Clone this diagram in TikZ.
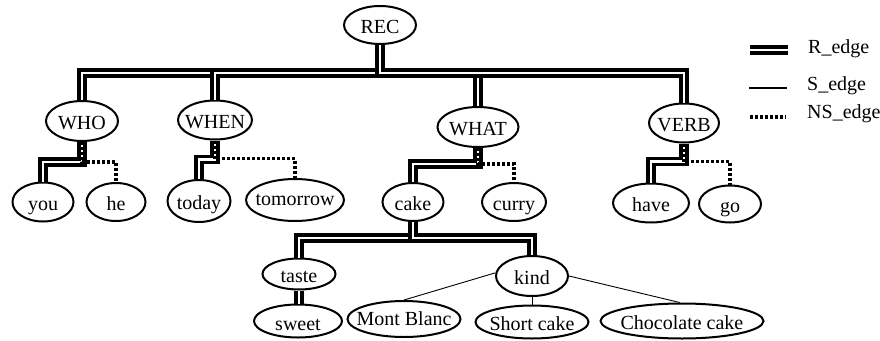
\documentclass[tikz,border=0pt]{standalone}
\usepackage{fontspec}
\setmainfont{Liberation Serif}
\usepackage{tikz}
\usetikzlibrary{shapes.geometric}
\newcommand{\elabel}[1]{\makebox[0pt]{#1}}

\begin{document}
\begin{tikzpicture}[x=1pt, y=-1pt,
    term/.style={ellipse, draw, line width=2pt, inner sep=0pt,
                 text height=17pt, text depth=1pt, font=\fontsize{20}{24}\selectfont},
    legtext/.style={anchor=west, inner sep=0pt, text height=17pt, text depth=1pt,
                    font=\fontsize{20}{24}\selectfont},
    redge/.style={line width=3.4pt, double, double distance=2.8pt},
    sedge/.style={line width=0.9pt},
    nsedge/.style={line width=3.4pt, dash pattern=on 3pt off 2pt}]
  \useasboundingbox (0,0) rectangle (880,340);
  % first level
  \node[term, minimum width=72, minimum height=38] (rec) at (380,25) {\elabel{REC}};
  \node[term, minimum width=72, minimum height=40] (who) at (82,121) {\elabel{WHO}};
  \node[term, minimum width=74, minimum height=39] (when) at (215,120) {\elabel{WHEN}};
  \node[term, minimum width=81, minimum height=40] (what) at (478,127) {\elabel{WHAT}};
  \node[term, minimum width=70, minimum height=39] (verb) at (684,123) {\elabel{VERB}};
  % second level
  \node[term, minimum width=61, minimum height=39] (you) at (43,202) {\elabel{you}};
  \node[term, minimum width=59, minimum height=38] (he) at (116,202) {\elabel{he}};
  \node[term, minimum width=63, minimum height=42] (today) at (199,201) {\elabel{today}};
  \node[term, minimum width=98, minimum height=42, text height=12pt] (tomorrow) at (295,200) {\elabel{tomorrow}};
  \node[term, minimum width=61, minimum height=38] (cake) at (413,202) {\elabel{cake}};
  \node[term, minimum width=64, minimum height=38] (curry) at (514,202) {\elabel{curry}};
  \node[term, minimum width=76, minimum height=39] (have) at (651,203) {\elabel{have}};
  \node[term, minimum width=62, minimum height=37] (go) at (730,204) {\elabel{go}};
  % cake subtree
  \node[term, minimum width=73, minimum height=31] (taste) at (299,274) {\elabel{taste}};
  \node[term, minimum width=72, minimum height=40] (kind) at (532,276) {\elabel{kind}};
  \node[term, minimum width=88, minimum height=33, text height=19pt] (sweet) at (298,321) {\elabel{sweet}};
  \node[term, minimum width=113, minimum height=36, text height=14pt] (mb) at (404,319) {\elabel{Mont Blanc}};
  \node[term, minimum width=113, minimum height=33] (sc) at (532,322) {\elabel{Short cake}};
  \node[term, minimum width=163, minimum height=35] (choc) at (682,321) {\elabel{Chocolate cake}};
  % R edges
  \coordinate (bus) at (0,73);
  \draw[redge] (rec.south) -- (rec.south |- bus) -| (who.north);
  \draw[redge] (rec.south) -- (rec.south |- bus) -| (when.north);
  \draw[redge] (rec.south) -- (rec.south |- bus) -| (what.north);
  \draw[redge] (rec.south) -- (rec.south |- bus) -| (verb.north);
  \draw[redge] (who.south) -- ++(0,20) -| (you.north);
  \draw[redge] (when.south) -- ++(0,19) -| (today.north);
  \draw[redge] (what.south) -- ++(0,16) -| (cake.north);
  \draw[redge] (verb.south) -- ++(0,18) -| (have.north);
  \draw[redge] (cake.south) -- ++(0,16) -| (taste.north);
  \draw[redge] (cake.south) -- ++(0,16) -| (kind.north);
  \draw[redge] (taste.south) -- (taste.south |- sweet.north);
  % NS edges
  \draw[nsedge] (who.south) -- ++(0,20) -| (he.north);
  \draw[nsedge] (when.south) -- ++(0,18) -| (tomorrow.north);
  \draw[nsedge] (what.south) -- ++(0,16) -| (curry.north);
  \draw[nsedge] (verb.south) -- ++(0,18) -| (go.north);
  % S edges
  \draw[sedge] (kind.175) -- (mb.north);
  \draw[sedge] (kind.south) -- (sc.north);
  \draw[sedge] (kind.east) -- (choc.97);
  % legend
  \node[legtext] (lgR) at (808,45) {R\_edge};
  \node[legtext] (lgS) at (807,82) {S\_edge};
  \node[legtext] (lgNS) at (807,110) {NS\_edge};
  \coordinate (lgRa) at (750,50);  \coordinate (lgRb) at (788,50);
  \coordinate (lgSa) at (749,88);  \coordinate (lgSb) at (787,88);
  \coordinate (lgNa) at (750,117); \coordinate (lgNb) at (786,117);
  \draw[redge] (lgRa) -- (lgRb);
  \draw[sedge, line width=2.4pt] (lgSa) -- (lgSb);
  \draw[nsedge] (lgNa) -- (lgNb);
\end{tikzpicture}
\end{document}
